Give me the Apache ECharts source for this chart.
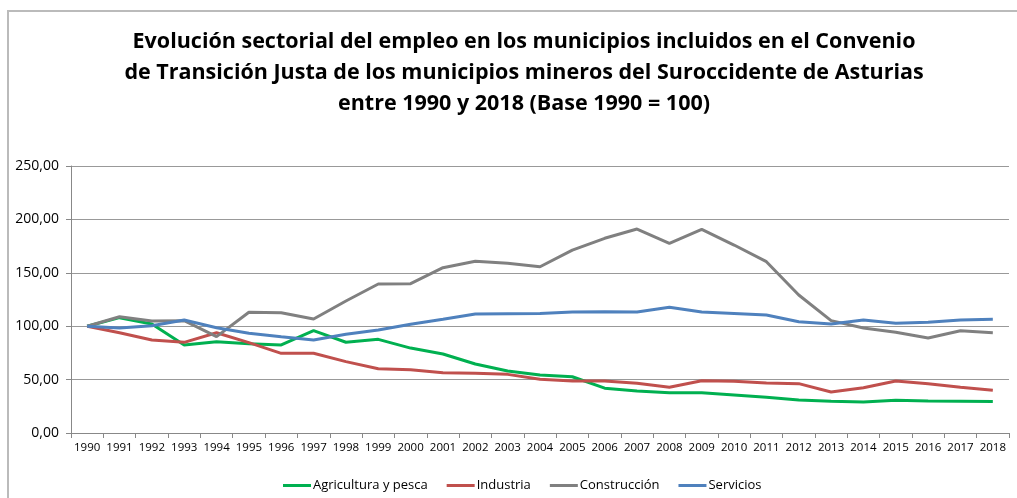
<!DOCTYPE html>
<html><head><meta charset="utf-8">
<script src="https://cdn.jsdelivr.net/npm/echarts@6/dist/echarts.min.js"></script>
<style>html,body{margin:0;padding:0;background:#fff}#c{width:1017px;height:498px}</style>
</head><body><div id="c"></div>
<script>
const years = ['1990','1991','1992','1993','1994','1995','1996','1997','1998','1999','2000','2001','2002','2003','2004','2005','2006','2007','2008','2009','2010','2011','2012','2013','2014','2015','2016','2017','2018'];
const agricultura = [100,108,102,82.5,85.5,83.5,82.5,95.8,85,87.7,79.5,74,64.6,58,54.3,52.7,42,39.3,37.8,37.8,35.6,33.4,30.9,29.7,29,30.6,29.9,29.7,29.4];
const industria = [100,93.9,87,84.9,93.9,84.6,74.6,74.6,66.8,60.2,59.2,56.5,55.9,54.9,50.3,48.7,48.7,46.5,42.8,49,48.4,46.8,46.2,38.4,42.4,48.7,46.2,42.8,40];
const construccion = [100,108.9,104.9,105.2,90.2,113,112.6,106.7,123.6,139.5,139.8,154.8,160.8,158.9,155.7,171.3,182.3,191,177.6,190.7,176,160.4,129.2,105.2,98.3,94.3,89,95.8,93.9];
const servicios = [100,98.3,100.5,105.8,98.6,93.4,90.2,87.1,92.4,96.4,101.8,106.5,111.4,111.7,111.9,113.3,113.6,113.3,117.7,113.3,112,110.5,104.2,102,105.8,102.7,103.6,105.8,106.5];
const seriesNames = ['Agricultura y pesca','Industria','Construcción','Servicios'];
const colors = ['#00B050','#C0504D','#808080','#4F81BD'];
const dataSets = [agricultura, industria, construccion, servicios];

const chart = echarts.init(document.getElementById('c'));
const font = 'Open Sans, Liberation Sans, sans-serif';
chart.setOption({
  animation:false,
  textStyle:{fontFamily:font},
  title:{
    text:'Evolución sectorial del empleo en los municipios incluidos en el Convenio\nde Transición Justa de los municipios mineros del Suroccidente de Asturias\nentre 1990 y 2018 (Base 1990 = 100)',
    left:519, textAlign:'center', top:21,
    textStyle:{fontSize:21.5,fontWeight:'bold',color:'#000',lineHeight:31,fontFamily:font}
  },
  graphic:[{type:'rect',shape:{x:8,y:11,width:1030,height:520},style:{fill:'none',stroke:'#bbbbbb',lineWidth:2},silent:true}],
  legend:{
    top:474, left:278, itemWidth:28, itemHeight:3, itemGap:19,
    icon:'rect',
    textStyle:{fontSize:13,color:'#000',fontFamily:font,padding:[0,0,0,-3]},
    data:seriesNames
  },
  grid:{left:71,right:8,top:166,bottom:65},
  xAxis:{
    type:'category', data:years, boundaryGap:true,
    axisLine:{lineStyle:{color:'#888'}},
    axisTick:{show:true,length:5,lineStyle:{color:'#888'}},
    axisLabel:{fontSize:11.5,color:'#000',margin:9,interval:0}
  },
  yAxis:{
    type:'value', min:0, max:250, interval:50,
    axisLine:{show:true,lineStyle:{color:'#888'}},
    axisTick:{show:true,length:5,lineStyle:{color:'#888'}},
    splitLine:{lineStyle:{color:'#999'}},
    axisLabel:{fontSize:14,color:'#000',margin:12,formatter:v=>v.toFixed(2).replace('.',',')}
  },
  series:dataSets.map((d,i)=>({
    name:seriesNames[i], type:'line', data:d, symbol:'none',
    lineStyle:{width:3,color:colors[i]}, itemStyle:{color:colors[i]}
  }))
});
</script></body></html>
